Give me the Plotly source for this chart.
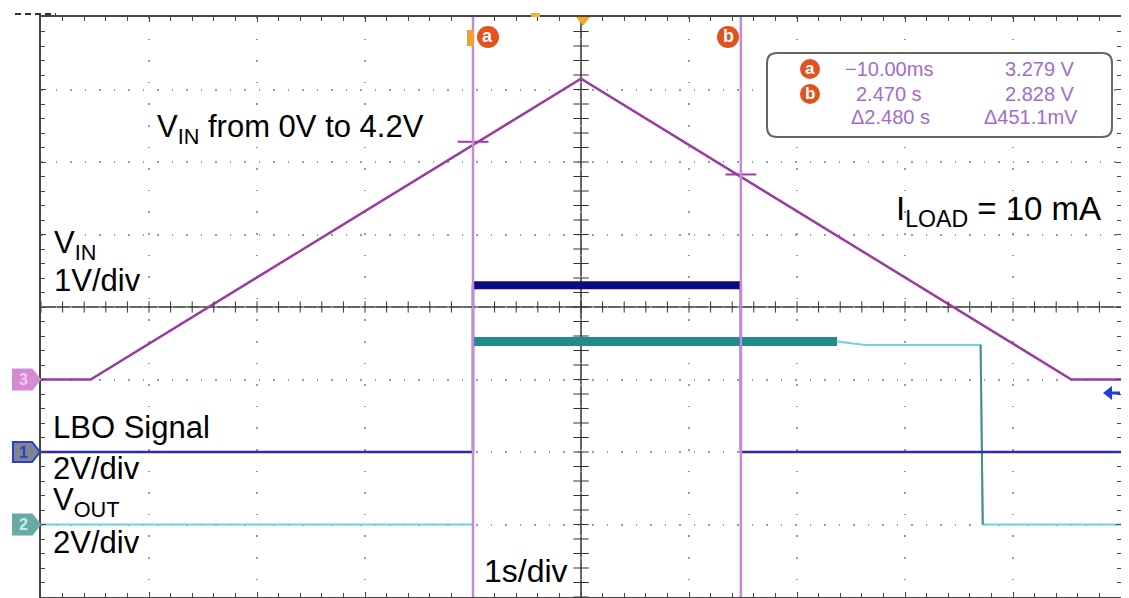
import numpy as np
import plotly.graph_objects as go

# ---------------- data (read from the scope capture) ----------------
# time axis in seconds, 1 s/div, 10 divisions
t_left, t_right = -4.01, 5.99

# Channel 3 : VIN, 1 V/div, ground marker at -1 div
vin_t = [-4.01, -3.55, 0.99, 5.53, 5.99]
vin_v = [0.0, 0.0, 4.15, 0.0, 0.0]
VIN_SCALE, VIN_POS = 1.0, -1.0

# Channel 1 : LBO signal, 2 V/div, ground marker at -2 div
lbo_t = [-4.01, -0.01, -0.01, 2.47, 2.47, 5.99]
lbo_v = [0.0, 0.0, 4.6, 4.6, 0.0, 0.0]
LBO_SCALE, LBO_POS = 2.0, -2.0

# Channel 2 : VOUT, 2 V/div, ground marker at -3 div
vout_t = [-4.01, -0.01, -0.01, 3.36, 3.62, 4.69, 4.71, 5.99]
vout_v = [0.0, 0.0, 5.05, 5.05, 4.95, 4.95, 0.0, 0.0]
VOUT_SCALE, VOUT_POS = 2.0, -3.0

# cursors a / b (readout)
cursor_names = ["a", "b"]
cursor_t = [-0.01, 2.47]
cursor_v = [3.279, 2.828]
cursor_dt = 2.480
cursor_dv_mv = 451.1

# ---------------- geometry helpers (page pixel coordinates) ----------------
PAGE_W, PAGE_H = 1129, 598
BODY = 8                      # default page body margin
W, H = PAGE_W - BODY, PAGE_H - BODY
PL, PT, PR, PB = 41, 17, 1121, 597   # plot area in page pixels
PW, PH = PR - PL, PB - PT
FONT = "Liberation Sans, Arial, sans-serif"


def px(x):
    return (x - PL) / PW


def py(y):
    return 1 - (y - PT) / PH


def div(v, scale, pos):
    return np.asarray(v, dtype=float) / scale + pos


t_center = (t_left + t_right) / 2

VIN_C = "#9c3aa3"
LBO_C = "#2b2ba6"
LBO_BAND = "#0b0b80"
VOUT_C = "#6ad6de"
VOUT_BAND = "#1f8b8b"
VOUT_EDGE = "#4f8c8c"
CUR_C = "#c58bd6"
ORANGE = "#e2521d"

fig = go.Figure()

# VIN
fig.add_trace(go.Scatter(x=vin_t, y=div(vin_v, VIN_SCALE, VIN_POS), mode="lines",
                         line=dict(color=VIN_C, width=2.5), hoverinfo="skip"))
# VOUT thin trace
fig.add_trace(go.Scatter(x=vout_t, y=div(vout_v, VOUT_SCALE, VOUT_POS), mode="lines",
                         line=dict(color=VOUT_C, width=2), hoverinfo="skip"))
# VOUT noisy band
fig.add_trace(go.Scatter(x=vout_t[2:4], y=div(vout_v[2:4], VOUT_SCALE, VOUT_POS), mode="lines",
                         line=dict(color=VOUT_BAND, width=9), hoverinfo="skip"))
# VOUT falling edge
fig.add_trace(go.Scatter(x=vout_t[5:7], y=div(vout_v[5:7], VOUT_SCALE, VOUT_POS), mode="lines",
                         line=dict(color=VOUT_EDGE, width=2), hoverinfo="skip"))
# LBO thin
fig.add_trace(go.Scatter(x=lbo_t, y=div(lbo_v, LBO_SCALE, LBO_POS), mode="lines",
                         line=dict(color=LBO_C, width=2.5), hoverinfo="skip"))
# LBO band (high state)
fig.add_trace(go.Scatter(x=lbo_t[2:4], y=div(lbo_v[2:4], LBO_SCALE, LBO_POS), mode="lines",
                         line=dict(color=LBO_BAND, width=8), hoverinfo="skip"))

# centre graticule tick marks
ticks_x = np.arange(t_left, t_right + 1e-9, 0.2)
ticks_y = np.arange(-4, 4 + 1e-9, 0.2)
fig.add_trace(go.Scatter(x=ticks_x, y=np.zeros_like(ticks_x), mode="markers",
                         marker=dict(symbol="line-ns", size=8, line=dict(color="#333", width=1)),
                         hoverinfo="skip", cliponaxis=False))
fig.add_trace(go.Scatter(x=np.full_like(ticks_y, t_center), y=ticks_y, mode="markers",
                         marker=dict(symbol="line-ew", size=11, line=dict(color="#333", width=1)),
                         hoverinfo="skip"))

# cursor crossings on VIN
fig.add_trace(go.Scatter(x=cursor_t, y=div(cursor_v, VIN_SCALE, VIN_POS), mode="markers",
                         marker=dict(symbol="line-ew", size=22, line=dict(color=VIN_C, width=2)),
                         hoverinfo="skip"))

shapes = []
# centre cross lines
shapes.append(dict(type="line", xref="x", yref="paper", x0=t_center, x1=t_center, y0=0, y1=1,
                   line=dict(color="#333", width=1.5), layer="below"))
shapes.append(dict(type="line", xref="paper", yref="y", x0=0, x1=1, y0=0, y1=0,
                   line=dict(color="#333", width=1.5), layer="below"))
# cursor lines
for ct in cursor_t:
    shapes.append(dict(type="line", xref="x", yref="paper", x0=ct, x1=ct, y0=0, y1=1,
                       line=dict(color=CUR_C, width=2.5), layer="above"))

# top-left dashes
shapes.append(dict(type="line", xref="paper", yref="paper", x0=px(15), x1=px(56), y0=py(14), y1=py(14),
                   line=dict(color="#333", width=2, dash="6px,4px")))
# trigger position triangle
shapes.append(dict(type="path", xref="paper", yref="paper",
                   path=f"M {px(576)},{py(17)} L {px(590)},{py(17)} L {px(583)},{py(26)} Z",
                   fillcolor="#f5a623", line=dict(width=0)))
shapes.append(dict(type="rect", xref="paper", yref="paper", x0=px(531), x1=px(540), y0=py(13), y1=py(17),
                   fillcolor="#f5b040", line=dict(width=0)))
# cursor a bracket
shapes.append(dict(type="rect", xref="paper", yref="paper", x0=px(467), x1=px(474), y0=py(30), y1=py(46),
                   fillcolor="#f0a030", line=dict(width=0)))
# trigger level arrow (right)
shapes.append(dict(type="line", xref="paper", yref="paper", x0=px(1108), x1=px(1120), y0=py(393), y1=py(393),
                   line=dict(color="#1f3fe0", width=3)))
shapes.append(dict(type="path", xref="paper", yref="paper",
                   path=f"M {px(1103)},{py(393)} L {px(1112)},{py(386)} L {px(1112)},{py(400)} Z",
                   fillcolor="#1f3fe0", line=dict(width=0)))


def circle(cx, cy, r, color):
    return dict(type="circle", xref="paper", yref="paper", x0=px(cx - r), x1=px(cx + r),
                y0=py(cy - r), y1=py(cy + r), fillcolor=color, line=dict(width=0))


annotations = []


def label(s, x, y, size, color="black", xanchor="left", bold=False):
    annotations.append(dict(text=(f"<b>{s}</b>" if bold else s), xref="paper", yref="paper",
                            x=px(x), y=py(y), xanchor=xanchor, yanchor="middle", showarrow=False,
                            font=dict(family=FONT, size=size, color=color)))


# cursor markers at top
for name, cx in zip(cursor_names, [488, 728]):
    shapes.append(circle(cx, 37, 11, ORANGE))
    label(name, cx, 36, 18, "white", "center", bold=True)


# readout box
def rrect(x0, y0, x1, y1, r):
    return (f"M {px(x0 + r)},{py(y0)} L {px(x1 - r)},{py(y0)} Q {px(x1)},{py(y0)} {px(x1)},{py(y0 + r)} "
            f"L {px(x1)},{py(y1 - r)} Q {px(x1)},{py(y1)} {px(x1 - r)},{py(y1)} "
            f"L {px(x0 + r)},{py(y1)} Q {px(x0)},{py(y1)} {px(x0)},{py(y1 - r)} "
            f"L {px(x0)},{py(y0 + r)} Q {px(x0)},{py(y0)} {px(x0 + r)},{py(y0)} Z")


shapes.append(dict(type="path", xref="paper", yref="paper", path=rrect(767, 53, 1112, 137, 10),
                   fillcolor="white", line=dict(color="#666", width=2)))
RD = "#a36ccc"
rows_y = [69, 94, 117]


def fmt_t(t):
    return f"{t * 1000:.2f}ms".replace("-", "\u2212") if abs(t) < 1 else f"{t:.3f} s"


for i, name in enumerate(cursor_names):
    shapes.append(circle(810, rows_y[i], 10, ORANGE))
    label(name, 810, rows_y[i] - 1, 17, "white", "center", bold=True)
    label(fmt_t(cursor_t[i]), 889, rows_y[i], 20, RD, "center")
    label(f"{cursor_v[i]:.3f} V", 1077, rows_y[i], 20, RD, "right")
label(f"\u0394{cursor_dt:.3f} s", 890, rows_y[2], 20, RD, "center")
label(f"\u0394{cursor_dv_mv:.1f}mV", 1080, rows_y[2], 20, RD, "right")

# channel tags on the left
tags = [("3", VIN_POS, "#d58ad5", "#d58ad5", "#f3c8f3"),
        ("1", LBO_POS, "#7f8590", "#2a3fd0", "#2a3fd0"),
        ("2", VOUT_POS, "#6ba9a6", "#6ba9a6", "#c8ecea")]
for name, pos, fill, edge, tc in tags:
    yc = PT + (4 - pos) * PH / 8
    path = (f"M {px(13)},{py(yc - 10)} L {px(32)},{py(yc - 10)} L {px(40)},{py(yc)} "
            f"L {px(32)},{py(yc + 10)} L {px(13)},{py(yc + 10)} Z")
    shapes.append(dict(type="path", xref="paper", yref="paper", path=path, fillcolor=fill,
                       line=dict(color=edge, width=2)))
    label(name, 23, yc, 16, tc, "center", bold=True)

# descriptive texts
label("V<sub>IN</sub> from 0V to 4.2V", 155, 129, 31)
label("I<sub>LOAD</sub> = 10 mA", 894, 211, 33)
label("V<sub>IN</sub>", 52, 245, 31)
label("1V/div", 52, 280, 31)
label("LBO Signal", 51, 427, 31)
label("2V/div", 51, 468, 31)
label("V<sub>OUT</sub>", 51, 502, 31)
label("2V/div", 51, 542, 31)
label("1s/div", 482, 571, 32)

axis_common = dict(showticklabels=False, zeroline=False, ticks="inside", ticklen=5,
                   tickcolor="#444", tickwidth=1, showline=True, linecolor="#444", linewidth=2,
                   mirror="allticks", showgrid=True, gridcolor="#9a9a9a", gridwidth=1.5, fixedrange=True)

fig.update_layout(
    width=W, height=H,
    margin=dict(l=PL - BODY, r=W - (PR - BODY), t=PT - BODY, b=H - (PB - BODY), pad=0, autoexpand=False),
    paper_bgcolor="white", plot_bgcolor="white", showlegend=False,
    xaxis=dict(range=[t_left, t_right], tick0=t_left, dtick=1, griddash="1.5px,20.1px",
               minor=dict(tick0=t_left, dtick=0.2, ticks="inside", ticklen=4, tickcolor="#444", showgrid=False),
               **axis_common),
    yaxis=dict(range=[-4, 4], tick0=-4, dtick=1, griddash="1.5px,13px",
               minor=dict(tick0=-4, dtick=0.2, ticks="inside", ticklen=4, tickcolor="#444", showgrid=False),
               **axis_common),
    shapes=shapes, annotations=annotations,
)

fig.write_html("out.html", config={"displayModeBar": False})
